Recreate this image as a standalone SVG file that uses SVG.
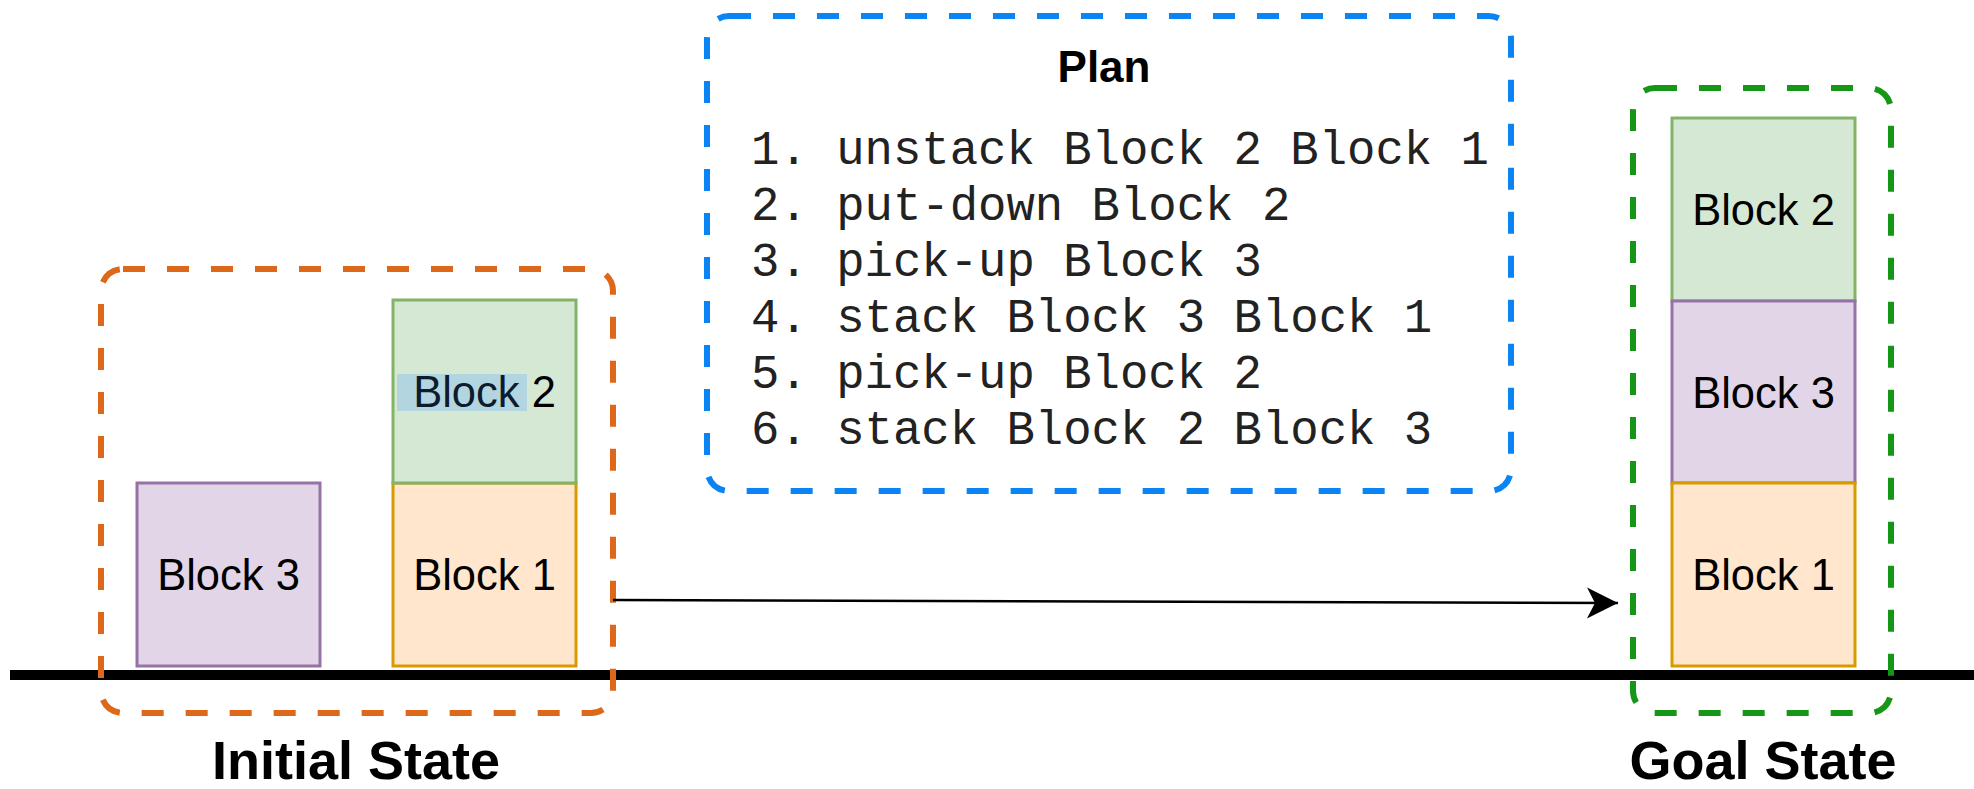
<svg xmlns="http://www.w3.org/2000/svg" width="1974" height="789" viewBox="0 0 1974 789">
<style>
.frame{fill:none;stroke-width:6;stroke-dasharray:22 22}
.blk{stroke-width:3}
.b1{fill:#ffe6cc;stroke:#d79b00}
.b2{fill:#d5e8d4;stroke:#82b366}
.b3{fill:#e1d5e7;stroke:#9673a6}
.lbl{font-family:"Liberation Sans",Arial,sans-serif;font-size:43.5px;fill:#000;text-anchor:middle}
.title{font-family:"Liberation Sans",Arial,sans-serif;font-weight:bold;fill:#000;text-anchor:middle}
.mono{font-family:"Liberation Mono","Courier New",monospace;font-size:47.3px;fill:#222}
</style>
<defs>
<marker id="arr" markerUnits="userSpaceOnUse" markerWidth="36" markerHeight="36" viewBox="-2 -18 36 36" refX="31" refY="0" orient="auto">
<path d="M0,-15.5 L31,0 L0,15.5 L8,0 Z" fill="#000"/>
</marker>
</defs>
<rect width="1974" height="789" fill="#fff"/>
<line x1="10" y1="675" x2="1974" y2="675" stroke="#000" stroke-width="10"/>
<g id="initial-state">
<rect class="frame" x="101" y="269" width="512" height="444" rx="22" stroke="#de681a"/>
<g id="init-block3"><rect class="blk b3" x="137" y="483" width="183" height="183"/><text class="lbl" x="228.5" y="590">Block 3</text></g>
<g id="init-block1"><rect class="blk b1" x="393" y="483" width="183" height="183"/><text class="lbl" x="484.5" y="590">Block 1</text></g>
<g id="init-block2"><rect class="blk b2" x="393" y="300" width="183" height="183"/><rect x="397" y="374" width="130" height="37" fill="#b3d5e0"/><text class="lbl" x="484.5" y="407"><tspan fill="#0d1b2e">Block</tspan> 2</text></g>
<text class="title" x="356" y="779" font-size="54">Initial State</text>
</g>
<g id="plan">
<rect class="frame" x="707" y="16" width="804" height="475" rx="22" stroke="#0a84f5"/>
<text class="title" x="1104" y="82" font-size="44">Plan</text>
<text class="mono" x="751" y="164">1. unstack Block 2 Block 1</text>
<text class="mono" x="751" y="220">2. put-down Block 2</text>
<text class="mono" x="751" y="276">3. pick-up Block 3</text>
<text class="mono" x="751" y="332">4. stack Block 3 Block 1</text>
<text class="mono" x="751" y="388">5. pick-up Block 2</text>
<text class="mono" x="751" y="444">6. stack Block 2 Block 3</text>
</g>
<g id="goal-state">
<rect class="frame" x="1633" y="88" width="258" height="625" rx="22" stroke="#169616"/>
<g id="goal-block2"><rect class="blk b2" x="1672" y="118" width="183" height="183"/><text class="lbl" x="1763.5" y="225">Block 2</text></g>
<g id="goal-block3"><rect class="blk b3" x="1672" y="301" width="183" height="182"/><text class="lbl" x="1763.5" y="408">Block 3</text></g>
<g id="goal-block1"><rect class="blk b1" x="1672" y="483" width="183" height="183"/><text class="lbl" x="1763.5" y="590">Block 1</text></g>
<text class="title" x="1763" y="779" font-size="54">Goal State</text>
</g>
<g id="connectors">
<line x1="613" y1="600" x2="1618" y2="603" stroke="#000" stroke-width="2.5" marker-end="url(#arr)"/>
</g>
</svg>
